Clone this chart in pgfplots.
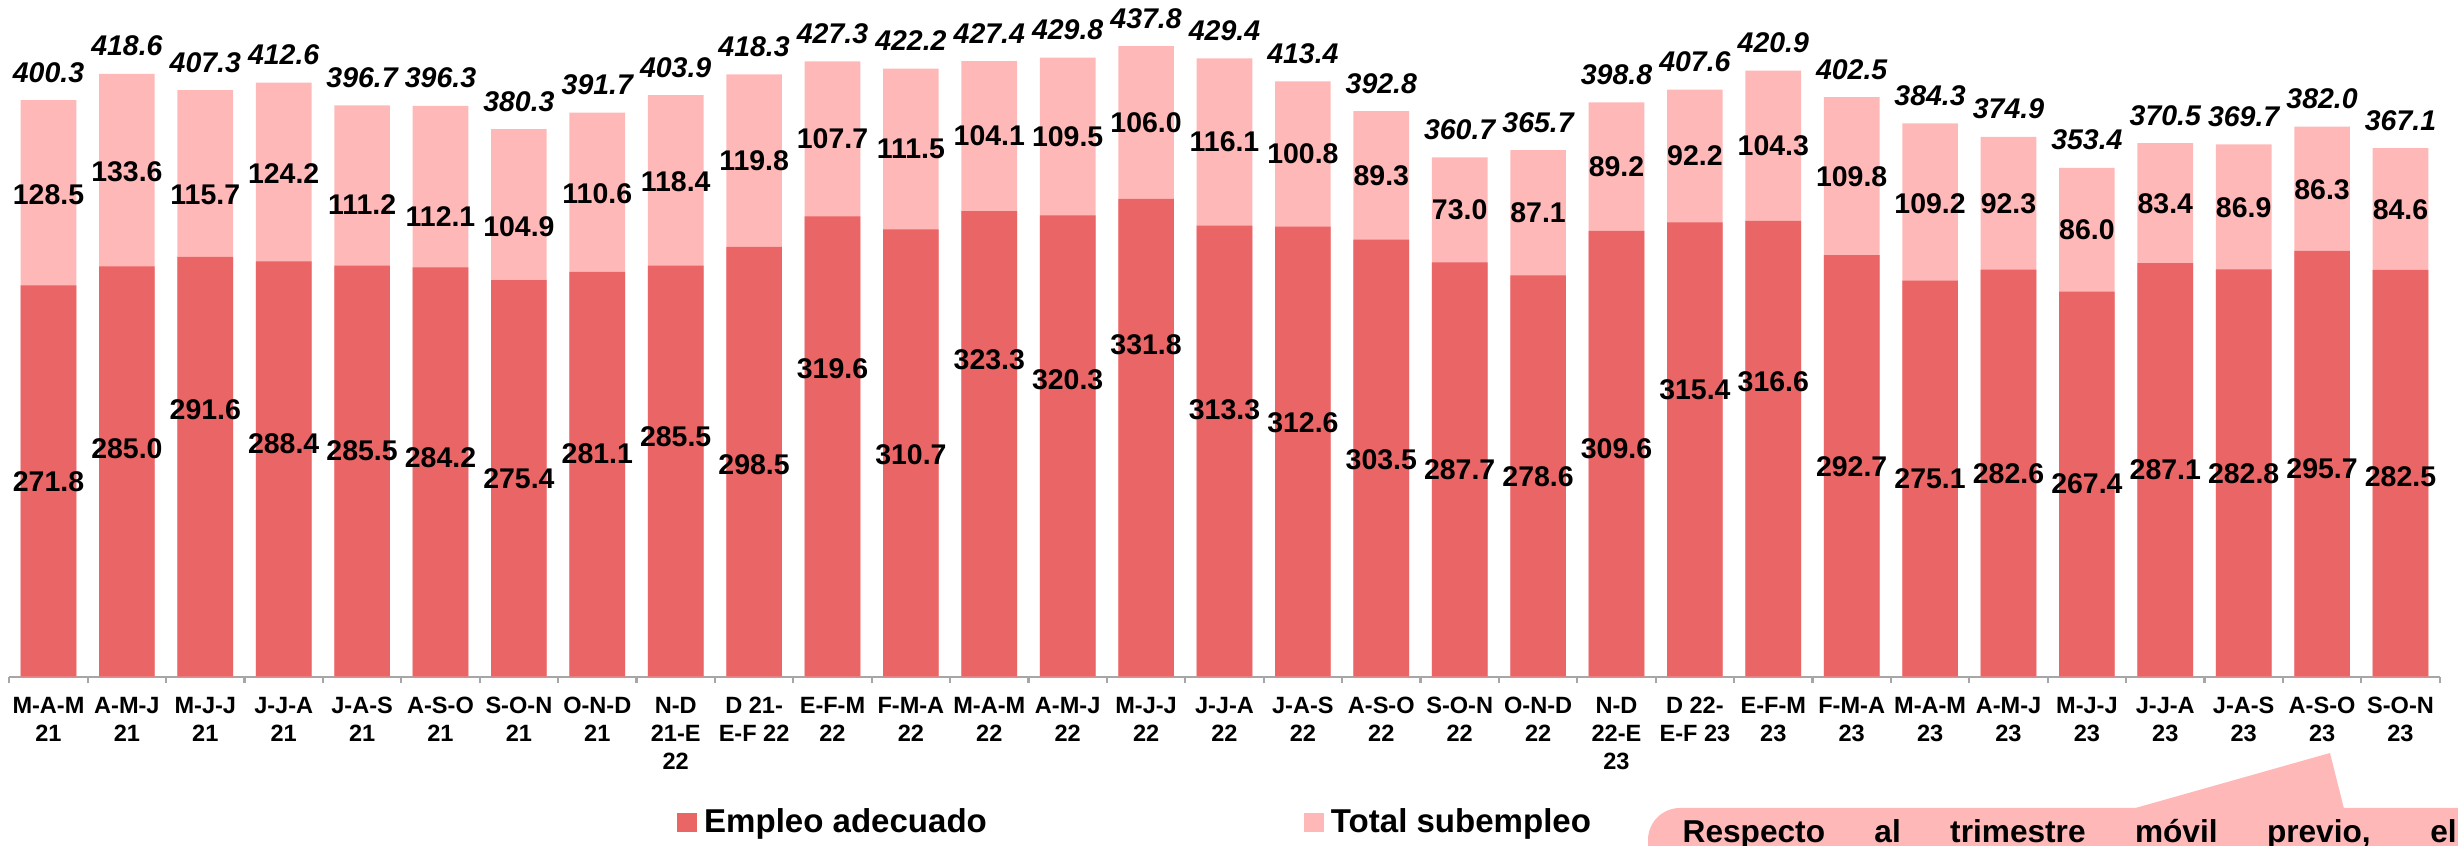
\documentclass[border=0pt]{standalone}
\usepackage{fontspec}
\setmainfont{Liberation Sans}
\usepackage{pgfplots}
\usepackage{pgfplotstable}
\pgfplotsset{compat=1.18}
\definecolor{redc}{HTML}{EA6566}
\definecolor{pinkc}{HTML}{FFB8B8}
\definecolor{axgray}{HTML}{A6A6A6}
\pgfplotstableread{
x adec sub total ya ys
0 271.8 128.5 400.3 135.4 335.0
1 285.0 133.6 418.6 158.6 350.5
2 291.6 115.7 407.3 185.2 334.5
3 288.4 124.2 412.6 162.0 349.6
4 285.5 111.2 396.7 157.0 327.6
5 284.2 112.1 396.3 152.3 319.4
6 275.4 104.9 380.3 137.8 312.5
7 281.1 110.6 391.7 155.0 335.7
8 285.5 118.4 403.9 166.7 343.8
9 298.5 119.8 418.3 147.0 358.4
10 319.6 107.7 427.3 214.0 373.4
11 310.7 111.5 422.2 154.0 366.5
12 323.3 104.1 427.4 220.0 375.4
13 320.3 109.5 429.8 206.0 375.1
14 331.8 106.0 437.8 230.3 384.8
15 313.3 116.1 429.4 185.2 371.4
16 312.6 100.8 413.4 176.5 363.0
17 303.5 89.3 392.8 150.5 348.2
18 287.7 73.0 360.7 143.5 324.2
19 278.6 87.1 365.7 138.9 322.2
20 309.6 89.2 398.8 158.6 354.2
21 315.4 92.2 407.6 199.0 361.5
22 316.6 104.3 420.9 204.9 368.8
23 292.7 109.8 402.5 145.8 347.2
24 275.1 109.2 384.3 137.8 328.7
25 282.6 92.3 374.9 141.2 328.3
26 267.4 86.0 353.4 134.3 310.2
27 287.1 83.4 370.5 143.5 328.3
28 282.8 86.9 369.7 141.2 326.0
29 295.7 86.3 382.0 144.7 338.5
30 282.5 84.6 367.1 138.9 324.1
}\data
\newcommand{\valfont}{\fontsize{8.1}{9.5}\selectfont\bfseries}
\begin{document}
\begin{tikzpicture}
\useasboundingbox (-0.093,-1.693) rectangle (24.487,6.767);
\begin{axis}[
  at={(0,0)}, anchor=south west,
  scale only axis, width=24.304cm, height=6.767cm,
  xmin=-0.5, xmax=30.5, ymin=0, ymax=469.9,
  clip=false,
  axis y line=none, axis x line*=bottom,
  x axis line style={-, draw=axgray, line width=0.6pt},
  xtick={0,...,30},
  major tick length=0pt,
  minor xtick={-0.5,0.5,...,30.5},
  minor tick length=0.067cm,
  tick align=outside,
  minor tick style={draw=axgray, line width=0.6pt},
  xticklabels={{M-A-M\\21},{A-M-J\\21},{M-J-J\\21},{J-J-A\\21},{J-A-S\\21},{A-S-O\\21},{S-O-N\\21},{O-N-D\\21},{N-D\\21-E\\22},{D 21-\\E-F 22},{E-F-M\\22},{F-M-A\\22},{M-A-M\\22},{A-M-J\\22},{M-J-J\\22},{J-J-A\\22},{J-A-S\\22},{A-S-O\\22},{S-O-N\\22},{O-N-D\\22},{N-D\\22-E\\23},{D 22-\\E-F 23},{E-F-M\\23},{F-M-A\\23},{M-A-M\\23},{A-M-J\\23},{M-J-J\\23},{J-J-A\\23},{J-A-S\\23},{A-S-O\\23},{S-O-N\\23}},
  xticklabel style={align=center, font=\fontsize{6.7}{7.97}\selectfont\bfseries, inner sep=0pt, anchor=north, yshift=-0.2cm},
  legend style={at={(0.2745,-0.2162)}, anchor=west, draw=none, fill=none, inner sep=0pt,
    font=\fontsize{9.4}{11}\selectfont\bfseries,
    /tikz/every even column/.append style={column sep=3.1cm}},
  legend columns=2,
  legend cell align=left,
  legend image code/.code={\fill[#1] (0cm,-0.095cm) rectangle (0.2cm,0.095cm);},
]
\addplot[ybar, bar width=0.71, bar shift=0pt, fill=pinkc, draw=none, forget plot] table[x=x,y=total]{\data};
\addplot[ybar, bar width=0.71, bar shift=0pt, fill=redc, draw=none, forget plot] table[x=x,y=adec]{\data};
\addplot[draw=none, mark=none, forget plot, nodes near coords, point meta=explicit symbolic,
  every node near coord/.append style={anchor=center, font=\valfont, inner sep=0pt}]
  table[x=x, y=ya, meta=adec]{\data};
\addplot[draw=none, mark=none, forget plot, nodes near coords, point meta=explicit symbolic,
  every node near coord/.append style={anchor=center, font=\valfont, inner sep=0pt}]
  table[x=x, y=ys, meta=sub]{\data};
\addplot[draw=none, mark=none, forget plot, nodes near coords, point meta=explicit symbolic,
  every node near coord/.append style={anchor=center, font=\valfont\itshape, inner sep=0pt, yshift=0.278cm}]
  table[x=x, y=total, meta=total]{\data};
\addlegendimage{fill=redc, draw=none}
\addlegendentry{Empleo adecuado}
\addlegendimage{fill=pinkc, draw=none}
\addlegendentry{Total subempleo}
\end{axis}
\fill[pinkc, rounded corners=0.32cm] (16.387,-2.8) rectangle (25.6,-1.313);
\fill[pinkc] (21.237,-1.32) -- (23.207,-0.763) -- (23.347,-1.32) -- cycle;
\node[anchor=base west, inner sep=0pt] at (16.727,-1.663)
  {\fontsize{9}{11}\selectfont\bfseries\makebox[7.74cm][s]{Respecto al trimestre móvil previo, el}};
\end{tikzpicture}
\end{document}
